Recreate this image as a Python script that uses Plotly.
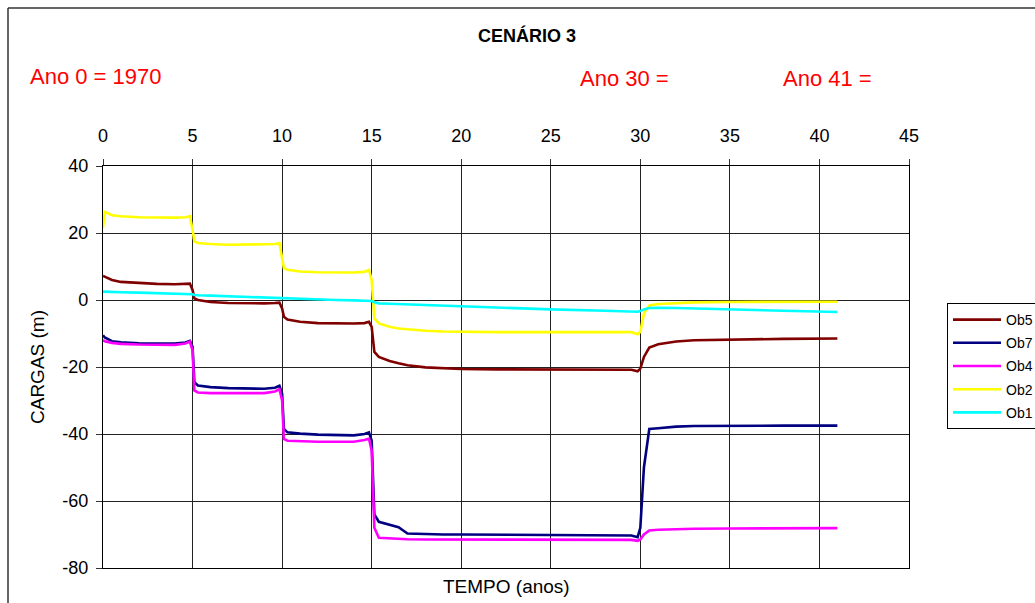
import plotly.graph_objects as go

# Time axis (years since 1970) shared by all observation wells
tempo = [0, 0.1, 0.5, 1, 2, 3, 4, 4.6, 4.85, 5.0, 5.1, 5.3, 6, 7, 8, 9, 9.6, 9.85,
         10.0, 10.1, 10.3, 11, 12, 13, 14, 14.6, 14.85, 15.0, 15.15, 15.4, 16, 16.5,
         17, 18, 19, 20, 22, 25, 28, 29.5, 29.85, 30.0, 30.2, 30.5, 31, 32, 33, 35, 38, 41]

# Hydraulic heads (m) per well
ob5 = [7.2, 7.0, 6.0, 5.4, 5.0, 4.8, 4.7, 4.7, 4.9, 3.0, 0.5, 0.0, -0.6, -0.9, -1.0, -1.0, -0.9, -0.8,
       -2.5, -5.0, -5.8, -6.5, -6.9, -7.0, -7.0, -6.9, -6.5, -8.0, -15.5, -17.0, -18.2, -18.9,
       -19.5, -20.1, -20.4, -20.6, -20.7, -20.7, -20.7, -20.8, -21.3, -20.5, -17.0, -14.2, -13.2, -12.4, -12.0, -11.8, -11.6, -11.5]

ob7 = [-10.5, -11.2, -12.3, -12.6, -12.9, -13.0, -13.0, -12.7, -12.2, -14.0, -24.5, -25.5, -26.0, -26.3, -26.5, -26.5, -26.2, -25.6,
       -28.0, -38.5, -39.5, -39.9, -40.2, -40.4, -40.4, -40.0, -39.5, -42.0, -64.0, -66.2, -67.0, -67.8,
       -69.7, -69.9, -70.0, -70.0, -70.1, -70.2, -70.2, -70.3, -70.8, -68.0, -50.0, -38.5, -38.3, -37.8, -37.6, -37.5, -37.5, -37.5]

ob4 = [-12.0, -12.3, -12.8, -13.1, -13.3, -13.4, -13.4, -13.0, -12.4, -15.0, -27.0, -27.6, -27.8, -27.8, -27.8, -27.8, -27.3, -26.6,
       -30.0, -41.5, -42.0, -42.2, -42.3, -42.3, -42.3, -41.8, -41.4, -45.0, -68.0, -71.0, -71.2, -71.3,
       -71.4, -71.5, -71.5, -71.5, -71.5, -71.5, -71.5, -71.6, -71.9, -71.5, -70.0, -68.8, -68.6, -68.4, -68.3, -68.2, -68.1, -68.1]

ob2 = [21.5, 26.3, 25.3, 25.0, 24.7, 24.6, 24.6, 24.7, 25.0, 21.0, 17.5, 17.0, 16.7, 16.5, 16.5, 16.5, 16.7, 17.0,
       13.0, 9.5, 9.0, 8.5, 8.3, 8.2, 8.2, 8.4, 9.0, 6.0, -5.5, -7.0, -8.0, -8.5,
       -8.8, -9.2, -9.4, -9.5, -9.6, -9.6, -9.6, -9.6, -10.2, -9.5, -4.0, -1.6, -1.2, -0.9, -0.7, -0.6, -0.5, -0.5]

ob1 = [2.5, 2.5, 2.4, 2.3, 2.2, 2.0, 1.9, 1.8, 1.8, 1.7, 1.5, 1.4, 1.3, 1.1, 1.0, 0.8, 0.7, 0.7,
       0.6, 0.5, 0.4, 0.3, 0.1, 0.0, -0.1, -0.2, -0.2, -0.3, -0.7, -1.0, -1.1, -1.2,
       -1.3, -1.5, -1.8, -2.0, -2.3, -2.8, -3.2, -3.5, -3.5, -3.3, -2.8, -2.4, -2.3, -2.4, -2.5, -2.8, -3.2, -3.6]

series_names = ["Ob5", "Ob7", "Ob4", "Ob2", "Ob1"]
series_values = [ob5, ob7, ob4, ob2, ob1]
series_colors = ["#800000", "#000080", "#FF00FF", "#FFFF00", "#00FFFF"]

x_ticks = [0, 5, 10, 15, 20, 25, 30, 35, 40, 45]
y_ticks = [-80, -60, -40, -20, 0, 20, 40]
y_tick_labels = ["-80", "-60", "-40", "-20", "0", "20", "40"]

FONT = "Liberation Sans, Arial, sans-serif"

fig = go.Figure()
for name, vals, col in zip(series_names, series_values, series_colors):
    fig.add_trace(go.Scatter(
        x=tempo, y=vals, name=name, mode="lines", legendgroup=name,
        line=dict(color=col, width=2.6),
    ))

# plot area in pixels: left 103, right 909, top 166, bottom 568
L, R, T, B = 103, 909, 166, 568
W, H = 1035, 603
pw, ph = R - L, B - T

def px_x(px):
    return (px - L) / pw

def px_y(py):
    return (B - py) / ph

fig.update_layout(
    width=W, height=H,
    margin=dict(l=L, r=W - R, t=T, b=H - B, autoexpand=False),
    paper_bgcolor="white", plot_bgcolor="white",
    font=dict(family=FONT, color="black", size=18),
    showlegend=True,
    legend=dict(
        x=px_x(947), y=px_y(303), xanchor="left", yanchor="top",
        bordercolor="black", borderwidth=1, bgcolor="white",
        font=dict(size=14, family=FONT), itemwidth=48,
        traceorder="grouped", tracegroupgap=2,
    ),
    xaxis=dict(
        side="top", range=[0, 45], tickvals=x_ticks,
        ticks="outside", ticklen=6, tickcolor="#333", ticklabelstandoff=10,
        showgrid=True, gridcolor="#222", gridwidth=1,
        showline=True, linecolor="black", linewidth=1.2, mirror=True,
        zeroline=False, tickfont=dict(size=18),
    ),
    yaxis=dict(
        range=[-80, 40], tickvals=y_ticks, ticktext=y_tick_labels,
        ticks="outside", ticklen=6, tickcolor="#333", ticklabelstandoff=4,
        showgrid=True, gridcolor="#222", gridwidth=1,
        showline=True, linecolor="black", linewidth=1.2, mirror=True,
        zeroline=False, tickfont=dict(size=18),
    ),
)

# outer chart frame (left and top edges)
fig.add_shape(type="line", xref="paper", yref="paper",
              x0=px_x(8), x1=px_x(8), y0=px_y(8), y1=px_y(620),
              line=dict(color="#333", width=1.5))
fig.add_shape(type="line", xref="paper", yref="paper",
              x0=px_x(8), x1=px_x(1060), y0=px_y(8), y1=px_y(8),
              line=dict(color="#333", width=1.5))

annots = [
    dict(text="<b>CENÁRIO 3</b>", x=px_x(527), y=px_y(35), xanchor="center", font=dict(size=18, color="black")),
    dict(text="Ano 0 = 1970", x=px_x(28), y=px_y(76), xanchor="left", font=dict(size=22, color="red")),
    dict(text="Ano 30 =", x=px_x(578), y=px_y(78), xanchor="left", font=dict(size=22, color="red")),
    dict(text="Ano 41 =", x=px_x(781), y=px_y(78), xanchor="left", font=dict(size=22, color="red")),
    dict(text="TEMPO (anos)", x=px_x(507), y=px_y(586), xanchor="center", font=dict(size=19, color="black")),
    dict(text="CARGAS (m)", x=px_x(37), y=px_y(367), xanchor="center", textangle=-90, font=dict(size=19, color="black")),
]
for a in annots:
    fig.add_annotation(xref="paper", yref="paper", yanchor="middle", showarrow=False,
                       font_family=FONT, **{k: v for k, v in a.items()})

fig.write_html("out.html")
